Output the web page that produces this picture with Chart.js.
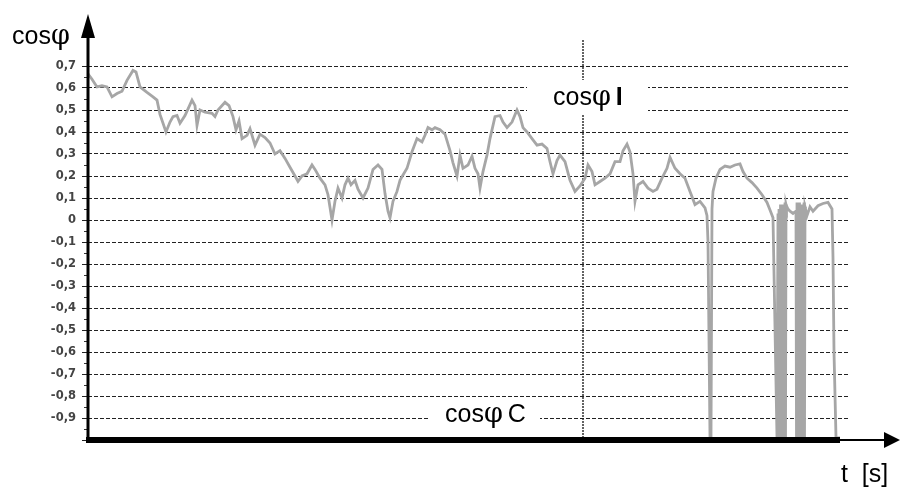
<!DOCTYPE html>
<html>
<head>
<meta charset="utf-8">
<title>cosφ</title>
<script src="https://cdn.jsdelivr.net/npm/chart.js@4/dist/chart.umd.min.js"></script>
<style>
  html, body { margin: 0; padding: 0; background: #ffffff; }
  #wrap { width: 900px; height: 488px; }
</style>
</head>
<body>
<div id="wrap"><canvas id="c" width="900" height="488"></canvas></div>
<script>
// Recorded power factor, sample time (arbitrary units) and cos phi
const timeSec = [
  0, 4, 9, 14, 19, 24, 29, 34, 39, 45, 48, 52, 59, 65, 69, 72, 78, 82, 85, 89,
  92, 97, 104, 107, 109, 112, 117, 124, 127, 130, 137, 141, 145, 148, 151, 154, 159, 162, 167, 172,
  177, 182, 187, 192, 197, 202, 207, 210, 214, 219, 224, 227, 232, 237, 240, 244, 247, 250, 254, 257,
  260, 263, 267, 270, 275, 280, 285, 290, 294, 297, 300, 302, 305, 309, 312, 315, 319, 324, 329, 334,
  337, 340, 344, 347, 352, 357, 362, 365, 369, 372, 375, 380, 384, 387, 390, 392, 395, 399, 402, 407,
  412, 415, 419, 424, 429, 432, 435, 439, 444, 449, 454, 459, 462, 465, 469, 472, 477, 482, 487, 492,
  497, 500, 504, 507, 512, 517, 522, 527, 532, 535, 539, 542, 545, 547, 550, 555, 560, 565, 569, 574,
  579, 582, 587, 592, 597, 602, 607, 612, 617, 619, 620, 622, 623, 624, 625, 628, 632, 637, 642, 647,
  652, 655, 659, 664, 669, 674, 679, 682, 685, 689,
  689.5, 690, 690.5, 691, 691.5, 692, 692.5, 693, 693.5, 694, 694.5, 695, 695.5, 696, 696.5, 697, 697.5, 698, 698.5, 699,
  700, 702, 705, 708,
  708.5, 709, 709.5, 710, 710.5, 711, 711.5, 712, 712.5, 713, 713.5, 714, 714.5, 715, 715.5, 716, 716.5, 717, 717.5, 718,
  719, 722, 725, 730, 735, 740, 744, 745, 746, 748, 752
];
const cosPhi = [
  0.665, 0.64, 0.605, 0.61, 0.605, 0.56, 0.575, 0.585, 0.635, 0.68, 0.673, 0.605, 0.58, 0.56, 0.545, 0.48, 0.40, 0.445, 0.47, 0.475,
  0.44, 0.475, 0.545, 0.52, 0.43, 0.5, 0.49, 0.485, 0.47, 0.5, 0.535, 0.52, 0.47, 0.41, 0.45, 0.37, 0.385, 0.415, 0.34, 0.39,
  0.375, 0.35, 0.30, 0.315, 0.28, 0.24, 0.2, 0.175, 0.2, 0.21, 0.25, 0.23, 0.19, 0.16, 0.115, 0.0, 0.085, 0.145, 0.1, 0.16,
  0.19, 0.16, 0.18, 0.14, 0.1, 0.145, 0.23, 0.25, 0.23, 0.12, 0.04, 0.01, 0.085, 0.13, 0.18, 0.205, 0.235, 0.31, 0.37, 0.355,
  0.385, 0.42, 0.41, 0.42, 0.41, 0.39, 0.315, 0.26, 0.2, 0.295, 0.235, 0.25, 0.29, 0.235, 0.21, 0.145, 0.22, 0.295, 0.37, 0.47,
  0.475, 0.445, 0.42, 0.445, 0.5, 0.47, 0.42, 0.4, 0.37, 0.34, 0.345, 0.325, 0.265, 0.21, 0.27, 0.295, 0.265, 0.18, 0.13, 0.155,
  0.19, 0.25, 0.22, 0.16, 0.175, 0.19, 0.21, 0.265, 0.265, 0.315, 0.345, 0.31, 0.21, 0.085, 0.16, 0.175, 0.145, 0.13, 0.14, 0.19,
  0.235, 0.285, 0.235, 0.21, 0.19, 0.13, 0.07, 0.085, 0.055, 0.02, -0.1, -0.99, -0.99, 0.05, 0.13, 0.19, 0.23, 0.245, 0.24, 0.25,
  0.255, 0.22, 0.19, 0.17, 0.145, 0.115, 0.08, 0.045, 0.01, -0.99,
  -0.99, 0.03, -0.99, 0.05, -0.99, -0.99, 0.07, -0.99, 0.06, -0.99, -0.99, 0.07, -0.99, 0.06, -0.99, 0.08, -0.99, 0.07, 0.06, 0.06,
  0.05, 0.04, 0.03, 0.04,
  -0.99, 0.08, -0.99, 0.07, -0.99, -0.99, 0.08, -0.99, 0.05, -0.99, 0.07, -0.99, -0.99, 0.06, -0.99, 0.08, -0.99, 0.06, 0.05, 0.04,
  0.02, 0.06, 0.04, 0.065, 0.075, 0.08, 0.05, -0.17, -0.6, -0.99, -0.99
];
// Horizontal value ticks
const yTicks = [-1.0, -0.9, -0.8, -0.7, -0.6, -0.5, -0.4, -0.3, -0.2, -0.1, 0, 0.1, 0.2, 0.3, 0.4, 0.5, 0.6, 0.7];
// Divider between the inductive and capacitive ranges
const dividerT = 495;
const tMax = 760;

const points = timeSec.map((t, i) => ({ x: t, y: cosPhi[i] }));

function fmtTick(v) {
  const r = Math.round(v * 10) / 10;
  if (r === -1) return '';
  if (r === 0) return '0';
  return r.toFixed(1).replace('.', ',');
}

// cos + φ + suffix, with φ in a serif face
function drawCosPhi(ctx, x, y, suffix) {
  ctx.save();
  ctx.fillStyle = '#000';
  ctx.textBaseline = 'alphabetic';
  ctx.textAlign = 'left';
  ctx.font = '25px "Liberation Sans", Arial, sans-serif';
  ctx.fillText('cos', x, y);
  let w = ctx.measureText('cos').width;
  ctx.font = '27px "DejaVu Serif", serif';
  ctx.fillText('φ', x + w, y);
  w += ctx.measureText('φ').width;
  if (suffix) {
    ctx.font = suffix === 'I' ? 'bold 25px "Liberation Sans", Arial, sans-serif'
                              : '25px "Liberation Sans", Arial, sans-serif';
    ctx.fillText(suffix, x + w + 5, y);
  }
  ctx.restore();
}

const decor = {
  id: 'decor',
  beforeDatasetsDraw(chart) {
    const { ctx, chartArea: a, scales: { x } } = chart;
    const px = x.getPixelForValue(dividerT);
    ctx.save();
    ctx.strokeStyle = '#222';
    ctx.lineWidth = 1.4;
    ctx.setLineDash([2, 1]);
    ctx.beginPath();
    ctx.moveTo(px, a.top - 26);
    ctx.lineTo(px, a.bottom);
    ctx.stroke();
    ctx.restore();
  },
  afterDraw(chart) {
    const { ctx, chartArea: a, scales: { y } } = chart;
    const x0 = a.left, yb = a.bottom;
    ctx.save();
    // minor ticks at half steps
    ctx.strokeStyle = '#333';
    ctx.lineWidth = 1;
    for (let k = 0; k < yTicks.length - 1; k++) {
      const v = (yTicks[k] + yTicks[k + 1]) / 2;
      const py = Math.round(y.getPixelForValue(v)) + 0.5;
      ctx.beginPath();
      ctx.moveTo(x0 - 4, py);
      ctx.lineTo(x0, py);
      ctx.stroke();
    }
    // vertical axis with arrow
    ctx.strokeStyle = '#000';
    ctx.fillStyle = '#000';
    ctx.lineWidth = 3;
    ctx.beginPath();
    ctx.moveTo(x0, yb + 2);
    ctx.lineTo(x0, 34);
    ctx.stroke();
    ctx.beginPath();
    ctx.moveTo(x0, 14);
    ctx.lineTo(x0 - 7, 38);
    ctx.lineTo(x0 + 7, 38);
    ctx.closePath();
    ctx.fill();
    // horizontal axis: heavy part, then thin line with arrow
    ctx.lineWidth = 6;
    ctx.beginPath();
    ctx.moveTo(x0 - 2, yb);
    ctx.lineTo(840, yb);
    ctx.stroke();
    ctx.lineWidth = 2;
    ctx.beginPath();
    ctx.moveTo(840, yb);
    ctx.lineTo(888, yb);
    ctx.stroke();
    ctx.beginPath();
    ctx.moveTo(900, yb);
    ctx.lineTo(884, yb - 8);
    ctx.lineTo(884, yb + 8);
    ctx.closePath();
    ctx.fill();
    // range labels on white boxes
    ctx.fillStyle = '#fff';
    ctx.fillRect(527, 80, 121, 35);
    ctx.fillRect(430, 399, 110, 31);
    ctx.restore();
    drawCosPhi(ctx, 553, 105, 'I');
    drawCosPhi(ctx, 445, 422, 'C');
    drawCosPhi(ctx, 12, 44, '');
    ctx.save();
    ctx.fillStyle = '#000';
    ctx.font = '25px "Liberation Sans", Arial, sans-serif';
    ctx.fillText('t  [s]', 841, 482);
    ctx.restore();
  }
};

new Chart(document.getElementById('c'), {
  type: 'line',
  data: {
    datasets: [{
      label: 'cosφ',
      data: points,
      borderColor: '#a6a6a6',
      borderWidth: 2.8,
      pointRadius: 0,
      tension: 0,
      fill: false
    }]
  },
  options: {
    responsive: false,
    animation: false,
    devicePixelRatio: 1,
    layout: { padding: { top: 66, right: 52, left: 0, bottom: 0 } },
    plugins: { legend: { display: false }, tooltip: { enabled: false } },
    scales: {
      x: {
        type: 'linear',
        min: 0,
        max: tMax,
        ticks: { display: false },
        grid: { display: false },
        border: { display: false },
        afterFit(s) { s.height = 48; }
      },
      y: {
        type: 'linear',
        min: -1,
        max: 0.7,
        afterBuildTicks(s) { s.ticks = yTicks.map(v => ({ value: v })); },
        afterFit(s) { s.width = 88; },
        ticks: {
          callback: fmtTick,
          color: '#444',
          padding: 6,
          font: { family: '"DejaVu Sans", sans-serif', size: 11.5, weight: 'bold' }
        },
        grid: {
          color: '#222',
          lineWidth: 1,
          drawTicks: true,
          tickLength: 6
        },
        border: { display: false, dash: [4, 2] }
      }
    }
  },
  plugins: [decor]
});
</script>
</body>
</html>
